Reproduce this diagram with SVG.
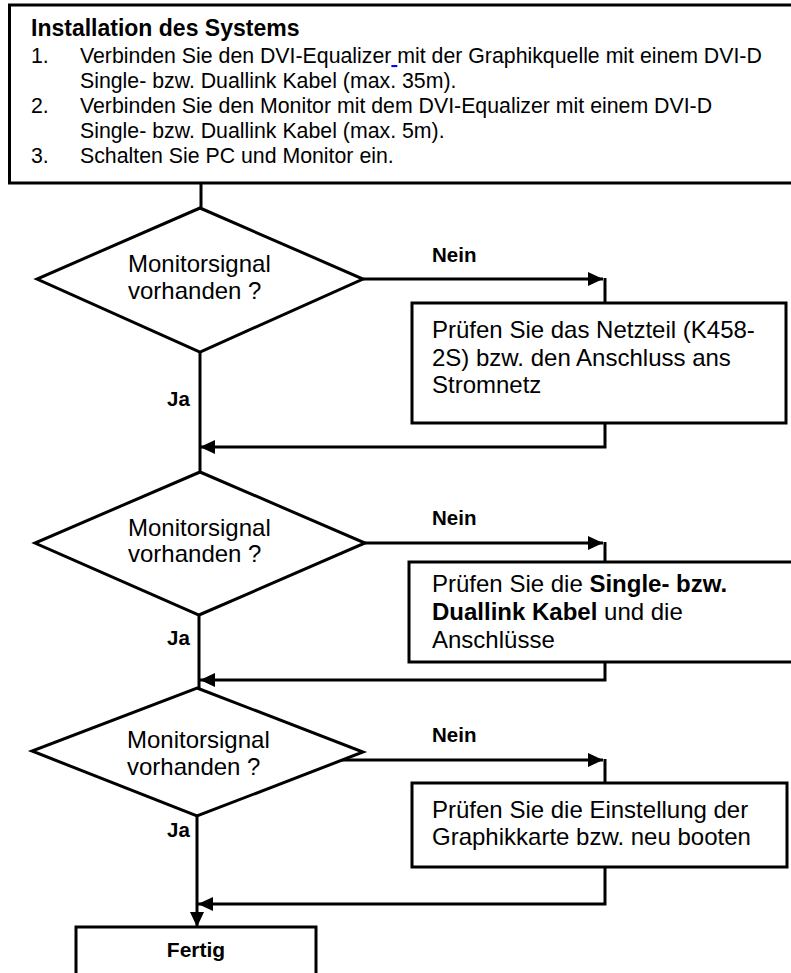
<svg xmlns="http://www.w3.org/2000/svg" width="791" height="973" viewBox="0 0 791 973">
<style>
text{font-family:"Liberation Sans",Arial,Helvetica,sans-serif;fill:#000}
.lst{font-size:21.3px}
.ttl{font-size:23px;font-weight:bold}
.nd{font-size:24px}
.lbl{font-size:20.5px;font-weight:bold}
.b{font-weight:bold}
.shape{fill:#fff;stroke:#000;stroke-width:3}
.conn{fill:none;stroke:#000;stroke-width:3}
</style>
<defs>
<marker id="ah" markerUnits="userSpaceOnUse" markerWidth="15" markerHeight="14" refX="15" refY="7" orient="auto">
<path d="M0,0 L15,7 L0,14 z" fill="#000"/>
</marker>
</defs>
<rect width="791" height="973" fill="#fff"/>

<g id="connectors">
<path class="conn" d="M201,183 V208"/>
<path class="conn" d="M363,279 H603" marker-end="url(#ah)"/>
<path class="conn" d="M605,278 V303"/>
<path class="conn" d="M605,423 V447 H200" marker-end="url(#ah)"/>
<path class="conn" d="M200,352 V472"/>
<path class="conn" d="M365,543 H603" marker-end="url(#ah)"/>
<path class="conn" d="M605,542 V562"/>
<path class="conn" d="M605,662 V680 H200" marker-end="url(#ah)"/>
<path class="conn" d="M199,615 V688"/>
<path class="conn" d="M342,760 H603" marker-end="url(#ah)"/>
<path class="conn" d="M605,759 V783"/>
<path class="conn" d="M605,867 V904 H198" marker-end="url(#ah)"/>
<path class="conn" d="M197,816 V927" marker-end="url(#ah)"/>
</g>

<g id="install">
<rect class="shape" x="9.5" y="5" width="800" height="178"/>
<text class="ttl" x="31" y="36">Installation des Systems</text>
<text class="lst" x="31" y="63">1.</text>
<text class="lst" x="80" y="63">Verbinden Sie den DVI-Equalizer<tspan fill="#0000ff" text-decoration="underline"> </tspan>mit der Graphikquelle mit einem DVI-D</text>
<text class="lst" x="80" y="88">Single- bzw. Duallink Kabel (max. 35m).</text>
<text class="lst" x="31" y="113">2.</text>
<text class="lst" x="80" y="113">Verbinden Sie den Monitor mit dem DVI-Equalizer mit einem DVI-D</text>
<text class="lst" x="80" y="138">Single- bzw. Duallink Kabel (max. 5m).</text>
<text class="lst" x="31" y="163">3.</text>
<text class="lst" x="80" y="163">Schalten Sie PC und Monitor ein.</text>
</g>

<g id="dec1">
<polygon class="shape" points="200,208 363,279 200,352 37,279"/>
<text class="nd" x="128" y="272">Monitorsignal</text>
<text class="nd" x="128" y="299">vorhanden ?</text>
</g>
<g id="lbl1">
<text class="lbl" x="432" y="262">Nein</text>
<text class="lbl" x="167" y="406">Ja</text>
</g>
<g id="box1">
<rect class="shape" x="412" y="303" width="374" height="120"/>
<text class="nd" x="432" y="338">Prüfen Sie das Netzteil (K458-</text>
<text class="nd" x="432" y="366">2S) bzw. den Anschluss ans</text>
<text class="nd" x="432" y="393">Stromnetz</text>
</g>

<g id="dec2">
<polygon class="shape" points="200,472 365,543 199,615 35,543"/>
<text class="nd" x="128" y="536">Monitorsignal</text>
<text class="nd" x="128" y="562">vorhanden ?</text>
</g>
<g id="lbl2">
<text class="lbl" x="432" y="525">Nein</text>
<text class="lbl" x="167" y="645">Ja</text>
</g>
<g id="box2">
<rect class="shape" x="409" y="562" width="400" height="100"/>
<text class="nd" x="432" y="592">Prüfen Sie die <tspan class="b">Single- bzw.</tspan></text>
<text class="nd" x="432" y="620"><tspan class="b">Duallink Kabel</tspan> und die</text>
<text class="nd" x="432" y="648">Anschlüsse</text>
</g>

<g id="dec3">
<polygon class="shape" points="197,688 363,752 197,816 32,751"/>
<text class="nd" x="127" y="748">Monitorsignal</text>
<text class="nd" x="127" y="775">vorhanden ?</text>
</g>
<g id="lbl3">
<text class="lbl" x="432" y="742">Nein</text>
<text class="lbl" x="167" y="837">Ja</text>
</g>
<g id="box3">
<rect class="shape" x="412" y="783" width="375" height="84"/>
<text class="nd" x="432" y="818">Prüfen Sie die Einstellung der</text>
<text class="nd" x="432" y="845">Graphikkarte bzw. neu booten</text>
</g>

<g id="fertig">
<rect class="shape" x="76" y="927" width="240" height="60"/>
<text class="lbl" x="196" y="957" text-anchor="middle" style="font-size:21px">Fertig</text>
</g>
</svg>
